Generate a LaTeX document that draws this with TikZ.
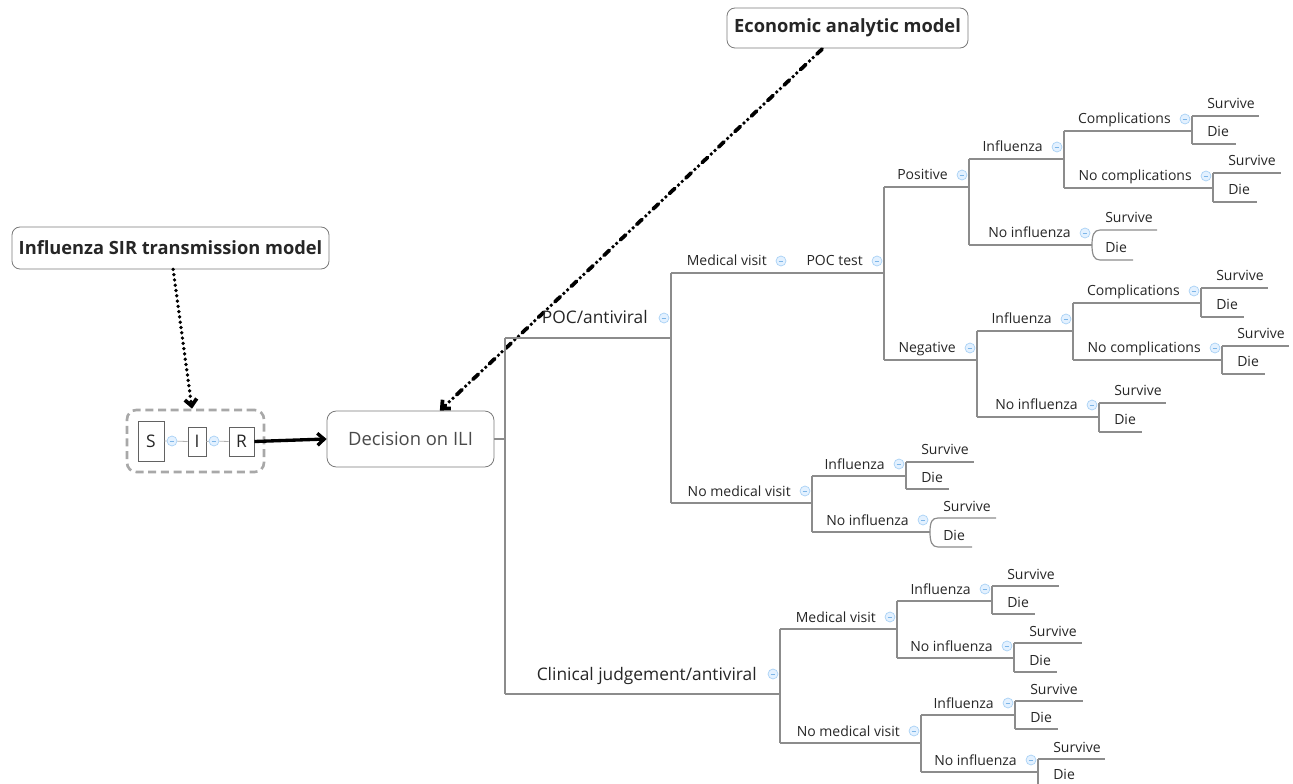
\documentclass[tikz,border=0pt]{standalone}
\usepackage{fontspec}
\setmainfont{Open Sans}
\usetikzlibrary{arrows.meta,calc}
\definecolor{linegray}{HTML}{8C8C8C}
\definecolor{txt}{HTML}{262626}
\definecolor{dectxt}{HTML}{4A4A4A}
\definecolor{mkfill}{HTML}{E3F1FF}
\definecolor{mkdraw}{HTML}{A6D0F5}
\definecolor{mkminus}{HTML}{7DB6E8}
\definecolor{boxgray}{HTML}{7A7A7A}
\definecolor{dashgray}{HTML}{A8A8A8}
\definecolor{sirline}{HTML}{B0B0B0}
\tikzset{
  branchline/.style={draw=linegray, line width=0.9pt},
  lbl/.style={inner sep=0pt, text=txt, font=\fontsize{10.5}{12}\selectfont},
  lbltop/.style={inner sep=0pt, text=txt, font=\fontsize{13}{15}\selectfont},
  mk/.style={circle, draw=mkdraw, fill=mkfill, line width=0.5pt, minimum size=7.5pt, inner sep=0pt,
    path picture={\draw[mkminus, line width=0.6pt] ([xshift=-1.8pt]path picture bounding box.center) -- ([xshift=1.8pt]path picture bounding box.center);}},
  model/.style={draw=boxgray, rounded corners=6pt, line width=0.6pt, fill=white, text=txt,
    font=\bfseries\fontsize{13.7}{15}\selectfont, inner sep=0pt},
  decbox/.style={draw=boxgray, rounded corners=7pt, line width=0.6pt, fill=white, text=dectxt,
    font=\fontsize{13.8}{15}\selectfont, inner sep=0pt, minimum width=125.25pt, minimum height=42pt},
  sirbox/.style={draw=dashgray, rounded corners=7pt, line width=2pt, dash pattern=on 6pt off 3.5pt, minimum width=102.75pt, minimum height=46.5pt, inner sep=0pt},
  letterbox/.style={draw=boxgray!80!black, line width=0.6pt, text=txt, inner sep=0pt, font=\fontsize{13}{15}\selectfont},
  sirlink/.style={draw=sirline, line width=0.6pt},
  dotarrow/.style={line width=2.8pt, line cap=round, dash pattern=on 0pt off 4pt, -{Straight Barb[length=5pt,width=9pt]}},
  dasharrow/.style={line width=2.8pt, line cap=round, dash pattern=on 5.5pt off 3.8pt on 0pt off 3.8pt on 0pt off 3.8pt, -{Straight Barb[length=5pt,width=9pt]}},
  solidarrow/.style={line width=2.5pt, -{Straight Barb[length=5pt,width=9pt]}},
}
% name, x1, x2, y, text
\newcommand{\mmbranch}[5]{%
  \coordinate (#1-s) at (#2,#4);
  \coordinate (#1-e) at (#3,#4);
  \draw[branchline] (#1-s) -- (#1-e);
  \node[lbl, anchor=base east] (#1) at (#3-21,#4-7) {#5};
  \node[mk] (#1-m) at (#3-7,#4-12) {};
}
\newcommand{\mmtop}[5]{%
  \coordinate (#1-s) at (#2,#4);
  \coordinate (#1-e) at (#3,#4);
  \draw[branchline] (#1-s) -- (#1-e);
  \node[lbltop, anchor=base east] (#1) at (#3-23,#4-14) {#5};
  \node[mk] (#1-m) at (#3-7,#4-20) {};
}
\newcommand{\mmleaf}[5]{%
  \coordinate (#1-s) at (#2,#4);
  \coordinate (#1-e) at (#3,#4);
  \draw[branchline] (#1-s) -- (#1-e);
  \node[lbl, anchor=base west] (#1) at (#2+15,#4-7) {#5};
}
% curved pair: parent name, leaf name prefix, x start, x end survive, x end die, y survive, y die
\newcommand{\mmcurve}[7]{%
  \coordinate (#2s-s) at (#3,#6); \coordinate (#2s-e) at (#4,#6);
  \coordinate (#2d-s) at (#3,#7); \coordinate (#2d-e) at (#5,#7);
  \draw[branchline] (#1-e) .. controls ($(#1-e)+(0,-10)$) and ($(#2s-s)+(-6,0)$) .. (#2s-s) -- (#2s-e);
  \draw[branchline] (#1-e) .. controls ($(#1-e)+(0,10)$) and ($(#2d-s)+(-6,0)$) .. (#2d-s) -- (#2d-e);
  \node[lbl, anchor=base west] (#2s) at (#3+5,#6-7) {Survive};
  \node[lbl, anchor=base west] (#2d) at (#3+5,#7-7) {Die};
}
\begin{document}
\begin{tikzpicture}[x=0.75pt,y=-0.75pt]
\useasboundingbox (0,0) rectangle (1293,784);
\clip (0,0) rectangle (1293,784);

% top model nodes
\node[model, minimum width=180.75pt, minimum height=30pt] (econ) at (847.5,28) {Economic analytic model};
\node[model, minimum width=237.75pt, minimum height=31.5pt] (sirm) at (170.5,248) {Influenza SIR transmission model};

% decision node
\node[decbox] (dec) at (410.5,439) {Decision on ILI};

% SIR group
\node[sirbox] (sirg) at (195.5,441) {};
\node[letterbox, minimum width=19.5pt, minimum height=30pt] (S) at (151,441) {S};
\node[letterbox, minimum width=13.5pt, minimum height=21.75pt] (I) at (197,441.5) {I};
\node[letterbox, minimum width=18.75pt, minimum height=21.75pt] (R) at (241.5,441.5) {R};
\node[mk] (sm1) at (172,441) {};
\node[mk] (sm2) at (214,441) {};
\draw[sirlink] (S.east) -- (sm1) -- (I.west);
\draw[sirlink] (I.east) -- (sm2) -- (R.west);

% arrows
\draw[dotarrow] ([xshift=2pt]sirm.south) -- ([xshift=-2.6pt]sirg.north);
\draw[solidarrow] (R.east) -- (dec.west);
\draw[dasharrow] ([xshift=-19pt,yshift=-0.5pt]econ.south) -- ([xshift=22pt]dec.north);

% trunk
\coordinate (dec-e) at (505,439);
\draw[branchline] (dec.east) -- (dec-e);
\mmtop{poc}{505}{671}{338}{POC/antiviral}
\mmtop{clin}{505}{780}{694}{Clinical judgement/antiviral}
\draw[branchline] (poc-s) -- (clin-s);

% POC/antiviral
\mmbranch{mv}{671}{788}{273}{Medical visit}
\mmbranch{poct}{788}{884}{273}{POC test}
\mmbranch{nmv}{671}{812}{503}{No medical visit}
\draw[branchline] (mv-s) -- (nmv-s);

\mmbranch{pos}{884}{969}{187}{Positive}
\mmbranch{neg}{884}{977}{360}{Negative}
\draw[branchline] (pos-s) -- (neg-s);

% Positive
\mmbranch{pinf}{969}{1064}{159}{Influenza}
\mmbranch{pninf}{969}{1092}{245}{No influenza}
\draw[branchline] (pinf-s) -- (pninf-s);
\mmbranch{pcomp}{1064}{1192}{131}{Complications}
\mmbranch{pnocomp}{1064}{1213}{188}{No complications}
\draw[branchline] (pcomp-s) -- (pnocomp-s);
\mmleaf{pcs}{1192}{1259}{116}{Survive}
\mmleaf{pcd}{1192}{1236}{144}{Die}
\draw[branchline] (pcs-s) -- (pcd-s);
\mmleaf{pns}{1213}{1281}{173}{Survive}
\mmleaf{pnd}{1213}{1257}{202}{Die}
\draw[branchline] (pns-s) -- (pnd-s);
\mmcurve{pninf}{pni}{1100}{1157}{1133}{230}{260}

% Negative
\mmbranch{ninf}{977}{1073}{331}{Influenza}
\mmbranch{nninf}{977}{1099}{417}{No influenza}
\draw[branchline] (ninf-s) -- (nninf-s);
\mmbranch{ncomp}{1073}{1201}{303}{Complications}
\mmbranch{nnocomp}{1073}{1222}{360}{No complications}
\draw[branchline] (ncomp-s) -- (nnocomp-s);
\mmleaf{ncs}{1201}{1268}{288}{Survive}
\mmleaf{ncd}{1201}{1244}{317}{Die}
\draw[branchline] (ncs-s) -- (ncd-s);
\mmleaf{nns}{1222}{1289}{346}{Survive}
\mmleaf{nnd}{1222}{1265}{374}{Die}
\draw[branchline] (nns-s) -- (nnd-s);
\mmleaf{nis}{1099}{1166}{403}{Survive}
\mmleaf{nid}{1099}{1142}{432}{Die}
\draw[branchline] (nis-s) -- (nid-s);

% No medical visit (POC)
\mmbranch{minf}{812}{906}{476}{Influenza}
\mmbranch{mninf}{812}{930}{532}{No influenza}
\draw[branchline] (minf-s) -- (mninf-s);
\mmleaf{mis}{906}{974}{462}{Survive}
\mmleaf{mid}{906}{949}{489}{Die}
\draw[branchline] (mis-s) -- (mid-s);
\mmcurve{mninf}{mni}{938}{996}{972}{518}{547}

% Clinical judgement
\mmbranch{cmv}{780}{897}{629}{Medical visit}
\mmbranch{cnmv}{780}{921}{743}{No medical visit}
\draw[branchline] (cmv-s) -- (cnmv-s);
\mmbranch{cmi}{897}{992}{601}{Influenza}
\mmbranch{cmni}{897}{1014}{658}{No influenza}
\draw[branchline] (cmi-s) -- (cmni-s);
\mmleaf{cmis}{992}{1059}{586}{Survive}
\mmleaf{cmid}{992}{1035}{614}{Die}
\draw[branchline] (cmis-s) -- (cmid-s);
\mmleaf{cmns}{1014}{1082}{643}{Survive}
\mmleaf{cmnd}{1014}{1057}{672}{Die}
\draw[branchline] (cmns-s) -- (cmnd-s);
\mmbranch{cni}{921}{1015}{715}{Influenza}
\mmbranch{cnni}{921}{1038}{772}{No influenza}
\draw[branchline] (cni-s) -- (cnni-s);
\mmleaf{cnis}{1015}{1083}{701}{Survive}
\mmleaf{cnid}{1015}{1058}{729}{Die}
\draw[branchline] (cnis-s) -- (cnid-s);
\mmleaf{cnns}{1038}{1105}{759}{Survive}
\mmleaf{cnnd}{1038}{1062}{786}{Die}
\draw[branchline] (cnns-s) -- (cnnd-s);
\end{tikzpicture}
\end{document}
